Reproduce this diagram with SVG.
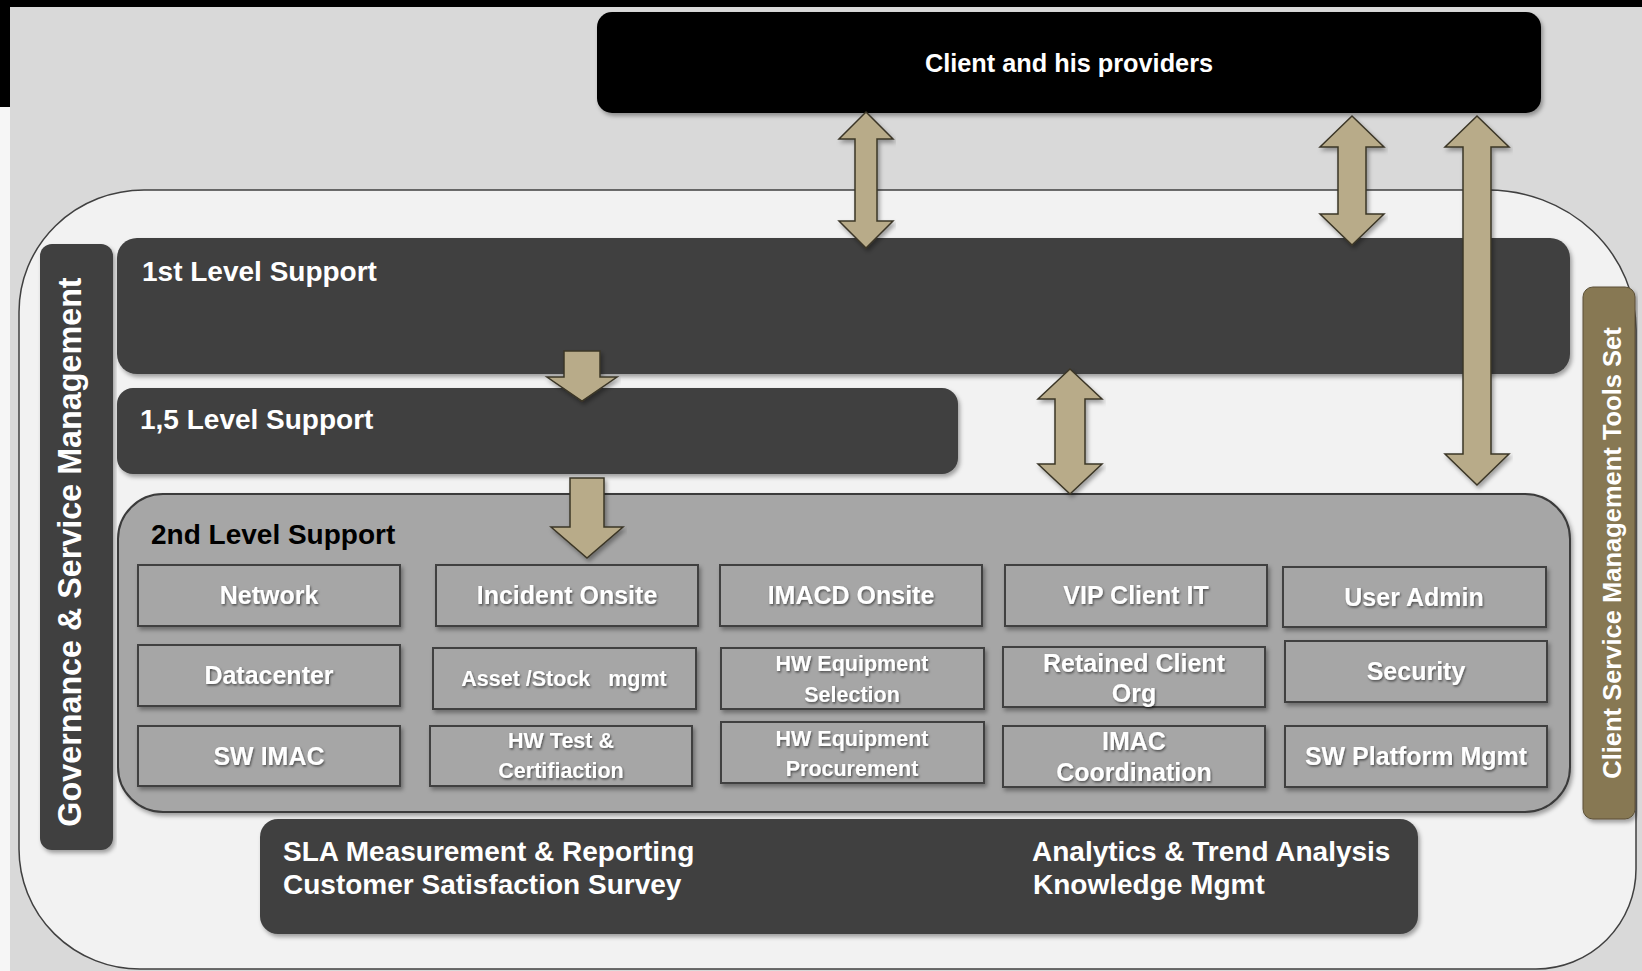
<svg xmlns="http://www.w3.org/2000/svg" width="1642" height="971" viewBox="0 0 1642 971">
<defs>
<filter id="sh" x="-5%" y="-5%" width="110%" height="120%">
<feDropShadow dx="2" dy="3" stdDeviation="2" flood-color="#000" flood-opacity="0.35"/>
</filter>
<filter id="tsh" x="-5%" y="-20%" width="110%" height="140%">
<feDropShadow dx="1" dy="1.5" stdDeviation="0.8" flood-color="#000" flood-opacity="0.55"/>
</filter>
</defs>
<style>
.dark{fill:#404040;}
.cell{fill:#a6a6a6;stroke:#3f3f3f;stroke-width:2;}
.arrow{fill:#b8ab89;stroke:#3b3626;stroke-width:1.5;stroke-linejoin:miter;}
.t{font-family:"Liberation Sans",Arial,sans-serif;font-weight:bold;fill:#fff;}
.c{font-family:"Liberation Sans",Arial,sans-serif;font-weight:bold;fill:#fff;font-size:25px;text-anchor:middle;}
.cs{font-family:"Liberation Sans",Arial,sans-serif;font-weight:bold;fill:#fff;font-size:21.5px;text-anchor:middle;white-space:pre;}
</style>

<!-- background -->
<rect x="0" y="0" width="1642" height="971" fill="#d9d9d9"/>
<rect x="0" y="0" width="1642" height="7" fill="#000"/>
<rect x="0" y="0" width="10" height="107" fill="#000"/>
<rect x="0" y="107" width="10" height="864" fill="#f6f6f6"/>

<!-- outer container -->
<path id="outer" d="M144,190 H1488 A148,140 0 0 1 1636,330 V869 A100,100 0 0 1 1536,969 H140 A121,120 0 0 1 19,849 V312 A125,122 0 0 1 144,190 Z" fill="#f2f2f2" stroke="#404040" stroke-width="1.5"/>

<g id="client">
<rect x="597" y="12" width="944" height="101" rx="15" fill="#000" filter="url(#sh)"/>
<text class="t" x="1069" y="72" font-size="25.3" text-anchor="middle">Client and his providers</text>
</g>

<g id="governance">
<rect x="40" y="244" width="73" height="606" rx="12" class="dark" filter="url(#sh)"/>
<text class="t" font-size="32.3" text-anchor="middle" transform="translate(81,552) rotate(-90)">Governance &amp; Service Management</text>
</g>

<g id="tools">
<rect x="1583" y="287" width="52" height="532" rx="10" fill="#877852" stroke="#5c5138" stroke-width="1" filter="url(#sh)"/>
<text class="t" font-size="25.5" text-anchor="middle" transform="translate(1621,553) rotate(-90)">Client Service Management Tools Set</text>
</g>

<g id="level1">
<rect x="117" y="238" width="1453" height="136" rx="20" class="dark" filter="url(#sh)"/>
<text class="t" x="142" y="281" font-size="28">1st Level Support</text>
</g>

<g id="level15">
<rect x="117" y="388" width="841" height="86" rx="16" class="dark" filter="url(#sh)"/>
<text class="t" x="140" y="429" font-size="28">1,5 Level Support</text>
</g>

<g id="level2">
<rect x="118" y="494" width="1452" height="318" rx="45" fill="#a6a6a6" stroke="#3a3a3a" stroke-width="2" filter="url(#sh)"/>
<text x="151" y="544" font-family="Liberation Sans, Arial, sans-serif" font-weight="bold" font-size="28" fill="#000">2nd Level Support</text>
</g>

<g id="cells">
<g id="network"><rect class="cell" x="138" y="565" width="262" height="61" filter="url(#sh)"/><text class="c" x="269" y="604" filter="url(#tsh)">Network</text></g>
<g id="datacenter"><rect class="cell" x="138" y="645" width="262" height="61" filter="url(#sh)"/><text class="c" x="269" y="684" filter="url(#tsh)">Datacenter</text></g>
<g id="swimac"><rect class="cell" x="138" y="726" width="262" height="60" filter="url(#sh)"/><text class="c" x="269" y="765" filter="url(#tsh)">SW IMAC</text></g>

<g id="incident"><rect class="cell" x="436" y="565" width="262" height="61" filter="url(#sh)"/><text class="c" x="567" y="604" filter="url(#tsh)">Incident Onsite</text></g>
<g id="asset"><rect class="cell" x="433" y="648" width="263" height="61" filter="url(#sh)"/><text class="cs" x="564" y="686" filter="url(#tsh)">Asset /Stock   mgmt</text></g>
<g id="hwtest"><rect class="cell" x="430" y="726" width="262" height="60" filter="url(#sh)"/><text class="cs" x="561" y="748" filter="url(#tsh)">HW Test &amp;</text><text class="cs" x="561" y="778" filter="url(#tsh)">Certifiaction</text></g>

<g id="imacd"><rect class="cell" x="720" y="565" width="262" height="61" filter="url(#sh)"/><text class="c" x="851" y="604" filter="url(#tsh)">IMACD Onsite</text></g>
<g id="hwsel"><rect class="cell" x="721" y="648" width="263" height="61" filter="url(#sh)"/><text class="cs" x="852" y="671" filter="url(#tsh)">HW Equipment</text><text class="cs" x="852" y="702" filter="url(#tsh)">Selection</text></g>
<g id="hwproc"><rect class="cell" x="721" y="722" width="263" height="61" filter="url(#sh)"/><text class="cs" x="852" y="746" filter="url(#tsh)">HW Equipment</text><text class="cs" x="852" y="776" filter="url(#tsh)">Procurement</text></g>

<g id="vip"><rect class="cell" x="1005" y="565" width="262" height="61" filter="url(#sh)"/><text class="c" x="1136" y="604" filter="url(#tsh)">VIP Client IT</text></g>
<g id="retained"><rect class="cell" x="1003" y="647" width="262" height="60" filter="url(#sh)"/><text class="c" x="1134" y="672" filter="url(#tsh)">Retained Client</text><text class="c" x="1134" y="702" filter="url(#tsh)">Org</text></g>
<g id="imaccoord"><rect class="cell" x="1003" y="726" width="262" height="61" filter="url(#sh)"/><text class="c" x="1134" y="750" filter="url(#tsh)">IMAC</text><text class="c" x="1134" y="781" filter="url(#tsh)">Coordination</text></g>

<g id="useradmin"><rect class="cell" x="1283" y="567" width="263" height="60" filter="url(#sh)"/><text class="c" x="1414" y="606" filter="url(#tsh)">User Admin</text></g>
<g id="security"><rect class="cell" x="1285" y="641" width="262" height="61" filter="url(#sh)"/><text class="c" x="1416" y="680" filter="url(#tsh)">Security</text></g>
<g id="swplatform"><rect class="cell" x="1285" y="726" width="262" height="61" filter="url(#sh)"/><text class="c" x="1416" y="765" filter="url(#tsh)">SW Platform Mgmt</text></g>
</g>

<g id="reporting">
<rect x="260" y="819" width="1158" height="115" rx="18" class="dark" filter="url(#sh)"/>
<text class="t" x="283" y="861" font-size="28">SLA Measurement &amp; Reporting</text>
<text class="t" x="283" y="894" font-size="28">Customer Satisfaction Survey</text>
<text class="t" x="1032" y="861" font-size="28">Analytics &amp; Trend Analysis</text>
<text class="t" x="1033" y="894" font-size="28">Knowledge Mgmt</text>
</g>

<g id="connectors">
<path class="arrow" filter="url(#sh)" d="M866,112 L893,139 L877,139 L877,221 L893,221 L866,248 L839,221 L855,221 L855,139 L839,139 Z"/>
<path class="arrow" filter="url(#sh)" d="M1352,116 L1384,147 L1366,147 L1366,214 L1384,214 L1352,245 L1320,214 L1338,214 L1338,147 L1320,147 Z"/>
<path class="arrow" filter="url(#sh)" d="M1477,116 L1509,147 L1491,147 L1491,454 L1509,454 L1477,485 L1445,454 L1463,454 L1463,147 L1445,147 Z"/>
<path class="arrow" filter="url(#sh)" d="M1070,369 L1102,399 L1085,399 L1085,464 L1102,464 L1070,494 L1038,464 L1055,464 L1055,399 L1038,399 Z"/>
<path class="arrow" filter="url(#sh)" d="M564,351 L600,351 L600,377 L617,377 L582,401 L547,377 L564,377 Z"/>
<path class="arrow" filter="url(#sh)" d="M570,478 L604,478 L604,527 L623,527 L587,558 L551,527 L570,527 Z"/>
</g>
</svg>
